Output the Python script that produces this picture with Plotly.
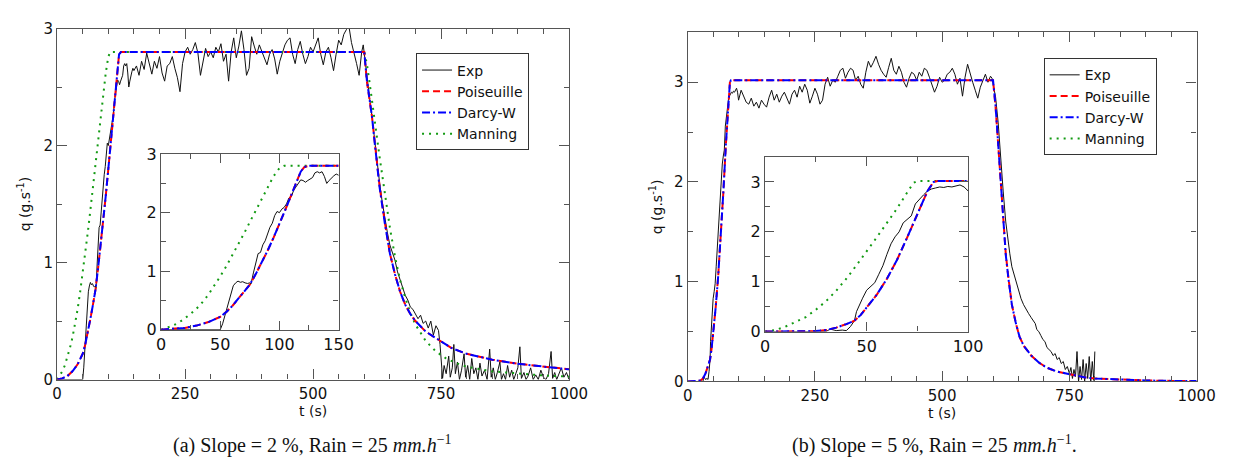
import plotly.graph_objects as go

# ---------------- data: panel (a) slope 2 % ----------------
t_exp_a = [0, 10, 20, 30, 40, 48, 50, 52, 54, 55, 57, 59, 61, 63, 65, 67, 69, 71, 73, 75, 76, 78, 80, 82, 84, 86, 88, 90,
           92, 94, 96, 98, 100, 102, 104, 106, 108, 110, 112, 114, 116, 118, 120, 122, 124, 126, 128, 130, 132, 134,
           136, 138, 140, 142, 144, 146, 148, 150,
           155, 160, 165, 170, 175, 180, 185, 190, 195, 200, 205, 210, 215, 220, 225, 230, 235, 240, 245, 250, 255,
           260, 265, 270, 275, 280, 285, 290, 295, 300, 305, 310, 315, 320, 325, 330, 335, 340, 345, 350, 355, 360,
           365, 370, 375, 380, 385, 390, 395, 400, 405, 410, 415, 420, 425, 430, 435, 440, 445, 450, 455, 460, 465,
           470, 475, 480, 485, 490, 495, 500, 505, 510, 515, 520, 525, 530, 535, 540, 545, 550, 555, 560, 565, 570,
           575, 580, 585, 590, 595, 598, 600,
           605, 610, 615, 620, 625, 630, 635, 640, 645, 650, 655, 660, 665, 670, 675, 680, 685, 690, 695, 700, 705,
           710, 715, 720, 725, 730, 735, 740, 745, 748, 750, 753, 756, 760, 765, 768, 772, 775, 778, 782, 786, 790,
           795, 798, 802, 806, 810, 814, 818, 822, 826, 830, 835, 840, 845, 848, 852, 856, 860, 865, 868, 872, 876,
           880, 884, 888, 892, 896, 900, 904, 907, 912, 916, 920, 925, 930, 935, 940, 945, 950, 955, 960, 965, 968,
           972, 976, 980, 985, 990, 995, 1000]
q_exp_a = [0, 0, 0, 0, 0, 0, 0.0, 0.1, 0.25, 0.32, 0.48, 0.62, 0.75, 0.8, 0.83, 0.81, 0.82, 0.8, 0.79, 0.8, 0.78, 0.97,
           1.15, 1.3, 1.32, 1.45, 1.52, 1.65, 1.75, 1.82, 1.95, 2.02, 2.0, 2.06, 2.09, 2.15, 2.25, 2.27, 2.38, 2.44,
           2.5, 2.56, 2.55, 2.52, 2.55, 2.57, 2.6, 2.68, 2.7, 2.68, 2.7, 2.62, 2.5, 2.55, 2.6, 2.63, 2.66, 2.64,
           2.68, 2.6, 2.72, 2.65, 2.79, 2.7, 2.61, 2.72, 2.66, 2.76, 2.62, 2.55, 2.68, 2.7, 2.76, 2.66, 2.58, 2.46,
           2.7, 2.8, 2.84, 2.78, 2.82, 2.88, 2.79, 2.6, 2.72, 2.83, 2.76, 2.8, 2.75, 2.84, 2.8, 2.87, 2.72, 2.78,
           2.55, 2.8, 2.92, 2.75, 2.85, 2.98, 2.82, 2.6, 2.66, 2.93, 2.85, 2.78, 2.86, 2.8, 2.75, 2.69, 2.78, 2.82,
           2.74, 2.61, 2.72, 2.8, 2.86, 2.9, 2.92, 2.78, 2.7, 2.82, 2.89, 2.78, 2.7, 2.76, 2.84, 2.8, 2.86, 2.92,
           2.78, 2.69, 2.8, 2.84, 2.75, 2.64, 2.78, 2.9, 2.86, 2.95, 2.99, 3.02, 2.88, 2.8, 2.7, 2.6, 2.8, 2.86, 2.78,
           2.6, 2.42, 2.25, 2.05, 1.85, 1.68, 1.52, 1.38, 1.26, 1.15, 1.08, 1.02, 0.92, 0.85, 0.8, 0.72, 0.68, 0.62,
           0.6, 0.56, 0.52, 0.55, 0.48, 0.5, 0.44, 0.5, 0.38, 0.46, 0.42, 0.3, 0.15, 0.01, 0.12, 0.05, 0.2, 0.02,
           0.1, 0.3, 0.05, 0.15, 0.0, 0.08, 0.22, 0.02, 0.12, 0.0, 0.18, 0.05, 0.1, 0.0, 0.14, 0.03, 0.08, 0.0, 0.26,
           0.02, 0.1, 0.0, 0.06, 0.15, 0.0, 0.05, 0.0, 0.12, 0.02, 0.08, 0.0, 0.05, 0.1, 0.28, 0.01, 0.06, 0.0, 0.03,
           0.1, 0.0, 0.04, 0.0, 0.08, 0.02, 0.0, 0.05, 0.24, 0.01, 0.06, 0.0, 0.04, 0.1, 0.02, 0.06, 0.0]

t_pois_a = [0, 10, 20, 30, 40, 50, 55, 60, 65, 70, 75, 80, 85, 90, 95, 100, 105, 110, 115, 118, 121, 125, 600, 605,
            610, 615, 620, 625, 630, 640, 650, 660, 670, 680, 690, 700, 720, 745, 770, 800, 850, 900, 950, 1000]
q_pois_a = [0, 0.01, 0.03, 0.07, 0.13, 0.22, 0.3, 0.4, 0.52, 0.64, 0.77, 0.95, 1.14, 1.35, 1.57, 1.8, 2.05, 2.3, 2.55,
            2.7, 2.78, 2.8, 2.8, 2.55, 2.4, 2.25, 2.05, 1.85, 1.65, 1.35, 1.08, 0.9, 0.75, 0.64, 0.56, 0.5, 0.41,
            0.34, 0.27, 0.22, 0.17, 0.135, 0.11, 0.088]
t_darcy_a = t_pois_a
q_darcy_a = [0, 0.01, 0.03, 0.07, 0.13, 0.22, 0.3, 0.4, 0.52, 0.64, 0.77, 0.95, 1.14, 1.35, 1.57, 1.8, 2.05, 2.3, 2.55,
             2.7, 2.78, 2.8, 2.8, 2.56, 2.41, 2.25, 2.04, 1.84, 1.64, 1.34, 1.08, 0.9, 0.75, 0.64, 0.56, 0.5, 0.41,
             0.34, 0.27, 0.22, 0.17, 0.135, 0.11, 0.087]

t_mann_a = [0, 5, 10, 15, 20, 25, 30, 35, 40, 45, 50, 55, 60, 65, 70, 75, 80, 85, 90, 95, 100, 104, 600, 605, 610, 620,
            630, 640, 650, 660, 670, 680, 690, 700, 720, 740, 760, 780, 800, 850, 900, 950, 1000]
q_mann_a = [0, 0.03, 0.07, 0.12, 0.19, 0.27, 0.36, 0.47, 0.6, 0.75, 0.91, 1.08, 1.26, 1.45, 1.64, 1.84, 2.04, 2.24,
            2.44, 2.62, 2.76, 2.8, 2.8, 2.7, 2.55, 2.2, 1.9, 1.6, 1.3, 1.05, 0.85, 0.7, 0.57, 0.47, 0.33, 0.24, 0.18,
            0.14, 0.11, 0.07, 0.05, 0.035, 0.025]

# ---------------- data: panel (b) slope 5 % ----------------
t_exp_b = [0, 10, 20, 30, 32, 35, 38, 40, 42, 44, 45, 46, 48, 50, 52, 54, 56, 58, 60, 62, 64, 66, 68, 70, 72, 74, 76,
           78, 80, 82, 84, 86, 88, 90, 92, 94, 96, 98, 100,
           105, 110, 115, 120, 125, 130, 135, 140, 145, 150, 155, 160, 165, 170, 175, 180, 185, 190, 195, 200, 205,
           210, 215, 220, 225, 230, 235, 240, 245, 250, 255, 260, 265, 270, 275, 280, 285, 290, 295, 300, 305, 310,
           315, 320, 325, 330, 335, 340, 345, 350, 355, 360, 365, 370, 375, 380, 385, 390, 395, 400, 405, 410, 415,
           420, 425, 430, 435, 440, 445, 450, 455, 460, 465, 470, 475, 480, 485, 490, 495, 500, 505, 510, 515, 520,
           525, 530, 535, 540, 545, 550, 555, 560, 565, 570, 575, 580, 585, 590, 595, 598, 600,
           605, 610, 615, 620, 625, 629, 633, 637, 641, 645, 650, 655, 660, 665, 670, 675, 680, 683, 686, 690, 694,
           698, 702, 706, 710, 714, 718, 722, 726, 730, 734, 738, 742, 746, 750, 753, 756, 759, 762, 765, 768, 771,
           774, 777, 780, 783, 786, 789, 792, 795, 798, 800]
q_exp_b = [0, 0, 0, 0, 0.05, 0.02, 0.03, 0.02, 0.1, 0.22, 0.4, 0.5, 0.67, 0.83, 0.9, 0.98, 1.15, 1.32, 1.55, 1.76, 1.9,
           2.0, 2.18, 2.26, 2.32, 2.56, 2.66, 2.74, 2.82, 2.86, 2.88, 2.9, 2.89, 2.91, 2.9, 2.92, 2.94, 2.9, 2.82,
           2.92, 2.86, 2.8, 2.78, 2.84, 2.76, 2.8, 2.74, 2.82, 2.78, 2.75, 2.85, 2.92, 2.82, 2.88, 2.8, 2.86, 2.9,
           2.83, 2.78, 2.88, 2.92, 2.85, 2.96, 2.9, 2.98, 2.92, 2.79, 2.86, 2.94, 2.88, 2.78, 2.82, 2.98, 3.05, 2.96,
           3.02, 3.0, 3.06, 3.12, 3.14, 3.04, 3.1, 3.14, 3.12, 3.02, 3.06, 2.98, 2.94, 3.1, 3.21, 3.15, 3.2, 3.26,
           3.18, 3.12, 3.08, 3.05, 3.15, 3.24, 3.12, 3.08, 3.16, 3.1, 3.0, 2.95, 3.04, 3.1, 3.08, 3.02, 3.1, 3.06,
           3.14, 3.12, 3.05, 2.98, 2.9, 2.96, 3.05, 3.0, 3.02, 3.08, 3.1, 3.14, 3.08, 2.98, 3.04, 2.86, 3.05, 3.18,
           3.08, 3.0, 2.92, 2.84, 2.95, 3.02, 3.08, 3.0, 3.06, 3.04, 2.98,
           2.85, 2.6, 2.2, 1.9, 1.6, 1.41, 1.28, 1.15, 1.08, 1.0, 0.9, 0.83, 0.77, 0.72, 0.68, 0.64, 0.6, 0.58, 0.52,
           0.5, 0.46, 0.42, 0.4, 0.34, 0.32, 0.3, 0.26, 0.28, 0.22, 0.24, 0.18, 0.2, 0.12, 0.15, 0.08, 0.14, 0.03,
           0.12, 0.05, 0.3, 0.0, 0.15, 0.02, 0.22, 0.0, 0.18, 0.03, 0.25, 0.0, 0.2, 0.01, 0.3]

t_pois_b = [0, 10, 20, 25, 30, 35, 40, 44, 47, 50, 55, 60, 65, 70, 75, 80, 83, 85, 600, 605, 610, 615, 620, 625, 630,
            637, 645, 652, 660, 675, 690, 705, 725, 743, 760, 781, 800, 830, 858, 900, 950, 1000]
q_pois_b = [0, 0, 0.005, 0.01, 0.03, 0.08, 0.15, 0.22, 0.33, 0.48, 0.74, 1.06, 1.44, 1.89, 2.37, 2.82, 3.0, 3.02, 3.02,
            2.75, 2.37, 1.98, 1.6, 1.28, 1.05, 0.77, 0.58, 0.45, 0.36, 0.26, 0.19, 0.14, 0.1, 0.08, 0.06, 0.04, 0.03,
            0.022, 0.016, 0.01, 0.006, 0.004]
t_darcy_b = t_pois_b
q_darcy_b = [0, 0, 0.005, 0.01, 0.03, 0.08, 0.15, 0.22, 0.33, 0.48, 0.74, 1.06, 1.44, 1.89, 2.37, 2.82, 3.0, 3.02,
             3.02, 2.76, 2.38, 1.98, 1.6, 1.27, 1.04, 0.77, 0.58, 0.45, 0.36, 0.26, 0.19, 0.14, 0.1, 0.08, 0.06, 0.04,
             0.03, 0.022, 0.016, 0.01, 0.006, 0.004]

t_mann_b = [0, 5, 10, 15, 20, 25, 30, 35, 40, 45, 50, 55, 60, 65, 70, 73, 75, 100]
q_mann_b = [0, 0.03, 0.1, 0.19, 0.29, 0.44, 0.61, 0.82, 1.06, 1.33, 1.6, 1.89, 2.18, 2.47, 2.79, 2.98, 3.02, 3.02]

legend_names = ["Exp", "Poiseuille", "Darcy-W", "Manning"]
caption_a = "(a) Slope = 2 %, Rain = 25 <i>mm.h</i><sup>−1</sup>"
caption_b = "(b) Slope = 5 %, Rain = 25 <i>mm.h</i><sup>−1</sup>."

# ---------------- figure ----------------
W, H = 1239, 465


def dx(a, b):
    return [a / W, b / W]


def dy(top, bottom):
    return [1 - bottom / H, 1 - top / H]


EXP = dict(color="#111111", width=1)
POI = dict(color="#ff0000", width=2, dash="7px,4px")
DAR = dict(color="#0000ff", width=2, dash="8px,3px,2px,3px")
MAN = dict(color="#129a12", width=2, dash="2px,5px")

fig = go.Figure()


def add_set(xa, ya, data, legend, show, with_manning=True):
    (te, qe, tp, qp, td, qd, tm, qm) = data
    fig.add_trace(go.Scatter(x=te, y=qe, mode="lines", line=EXP, name=legend_names[0], xaxis=xa, yaxis=ya,
                             showlegend=show, legend=legend))
    if with_manning:
        fig.add_trace(go.Scatter(x=tm, y=qm, mode="lines", line=MAN, name=legend_names[3], xaxis=xa, yaxis=ya,
                                 showlegend=False, legend=legend))
    fig.add_trace(go.Scatter(x=tp, y=qp, mode="lines", line=POI, name=legend_names[1], xaxis=xa, yaxis=ya,
                             showlegend=show, legend=legend))
    fig.add_trace(go.Scatter(x=td, y=qd, mode="lines", line=DAR, name=legend_names[2], xaxis=xa, yaxis=ya,
                             showlegend=show, legend=legend))


data_a = (t_exp_a, q_exp_a, t_pois_a, q_pois_a, t_darcy_a, q_darcy_a, t_mann_a, q_mann_a)
data_b = (t_exp_b, q_exp_b, t_pois_b, q_pois_b, t_darcy_b, q_darcy_b, t_mann_b, q_mann_b)

add_set("x", "y", data_a, "legend", True)
add_set("x2", "y2", data_a, "legend", False)
add_set("x3", "y3", data_b, "legend2", True, with_manning=False)
add_set("x4", "y4", data_b, "legend2", False)

# legend entries for Manning (use the existing traces)
fig.data[1].showlegend = True
for tr in fig.data:
    if tr.xaxis == "x4" and tr.name == "Manning":
        tr.showlegend = True
        tr.legend = "legend2"

# legend order
for tr in fig.data:
    tr.legendrank = 1000 + legend_names.index(tr.name)

FRAME = "#555555"
TICKF = dict(family="DejaVu Sans", size=15, color="#111111")
INSF = dict(family="DejaVu Sans", size=16, color="#111111")


def ax(domain, rng, dtick, mdtick, anchor, font, tl=10, mtl=5, title=None, standoff=2):
    d = dict(domain=domain, range=rng, dtick=dtick, tick0=0, anchor=anchor, showline=True, mirror="allticks",
             linecolor=FRAME, linewidth=1.3, ticks="inside", ticklen=tl, tickwidth=1.2, tickcolor=FRAME,
             showgrid=False, zeroline=False, tickfont=font, fixedrange=True,
             minor=dict(ticks="inside", ticklen=mtl, dtick=mdtick, tick0=0, tickcolor=FRAME, tickwidth=1.2,
                        showgrid=False))
    if title:
        d["title"] = dict(text=title, font=dict(family="DejaVu Sans", size=14, color="#111111"), standoff=standoff)
    return d


fig.update_layout(
    width=W, height=H, autosize=False,
    margin=dict(l=0, r=0, t=0, b=0),
    paper_bgcolor="white", plot_bgcolor="white",
    xaxis=ax(dx(45, 567), [0, 1000], 250, 50, "y", TICKF, title="t (s)"),
    yaxis=ax(dy(12, 378), [0, 3], 1, 0.5, "x", TICKF, title="q (g.s<sup>-1</sup>)", standoff=9),
    xaxis2=ax(dx(151, 332), [0, 150], 50, 25, "y2", INSF, tl=9, mtl=5),
    yaxis2=ax(dy(143, 326), [0, 3], 1, 0.5, "x2", INSF, tl=9, mtl=5),
    xaxis3=ax(dx(688, 1207), [0, 1000], 250, 50, "y3", TICKF, title="t (s)"),
    yaxis3=ax(dy(16, 380), [0, 3.5], 1, 0.5, "x3", TICKF, title="q (g.s<sup>-1</sup>)", standoff=8),
    xaxis4=ax(dx(767, 974), [0, 100], 50, 25, "y4", INSF, tl=9, mtl=5),
    yaxis4=ax(dy(146, 328), [0, 3.5], 1, 0.5, "x4", INSF, tl=9, mtl=5),
    legend=dict(x=411 / W, y=1 - 38 / H, xanchor="left", yanchor="top", bgcolor="white",
                bordercolor="#333333", borderwidth=1, font=dict(family="DejaVu Sans", size=14, color="#111111"),
                tracegroupgap=0, itemwidth=30),
    legend2=dict(x=1051 / W, y=1 - 43 / H, xanchor="left", yanchor="top", bgcolor="white",
                 bordercolor="#333333", borderwidth=1, font=dict(family="DejaVu Sans", size=14, color="#111111"),
                 tracegroupgap=0, itemwidth=30),
    annotations=[
        dict(text=caption_a, x=305 / W, y=1 - 446 / H, xref="paper", yref="paper", showarrow=False,
             xanchor="center", yanchor="middle",
             font=dict(family="Liberation Serif", size=20, color="#111111")),
        dict(text=caption_b, x=940 / W, y=1 - 446 / H, xref="paper", yref="paper", showarrow=False,
             xanchor="center", yanchor="middle",
             font=dict(family="Liberation Serif", size=20, color="#111111")),
    ],
)

fig.write_html("out.html")
